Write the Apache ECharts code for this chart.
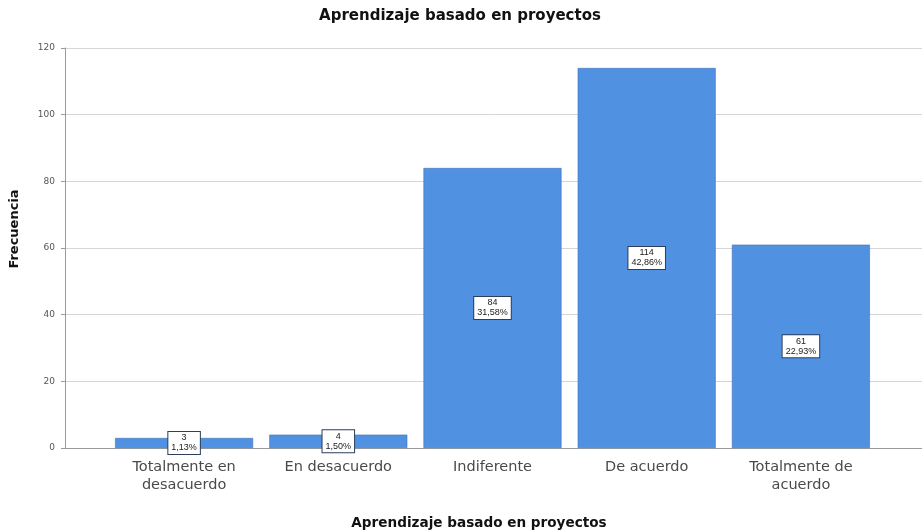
<!DOCTYPE html>
<html>
<head>
<meta charset="utf-8">
<script src="https://cdn.jsdelivr.net/npm/echarts@6/dist/echarts.min.js"></script>
<style>html,body{margin:0;padding:0;background:#fff}#c{width:922px;height:532px}</style>
</head>
<body>
<div id="c"></div>
<script>
var categories = ['Totalmente en\ndesacuerdo', 'En desacuerdo', 'Indiferente', 'De acuerdo', 'Totalmente de\nacuerdo'];
var frecuencias = [3, 4, 84, 114, 61];
var porcentajes = ['1,13%', '1,50%', '31,58%', '42,86%', '22,93%'];
var yTicks = [0, 20, 40, 60, 80, 100, 120];

var chart = echarts.init(document.getElementById('c'), null, {renderer: 'canvas'});
var font = 'DejaVu Sans, Liberation Sans, sans-serif';
chart.setOption({
  animation: false,
  backgroundColor: '#ffffff',
  title: [{
    text: 'Aprendizaje basado en proyectos',
    left: 455, top: 4, textAlign: 'center',
    textStyle: {fontFamily: font, fontSize: 15, fontWeight: 'bold', color: '#111'}
  }, {
    text: 'Aprendizaje basado en proyectos',
    left: 474, top: 511, textAlign: 'center',
    textStyle: {fontFamily: font, fontSize: 13.6, fontWeight: 'bold', color: '#111'}
  }],
  grid: [
    {left: 65, right: 0, top: 48, bottom: 84, outerBoundsMode: 'none', containLabel: false},
    {left: 107, right: 44, top: 48, bottom: 84, outerBoundsMode: 'none', containLabel: false}
  ],
  xAxis: [
    {
      gridIndex: 0, type: 'category', data: [''],
      axisLine: {show: true, lineStyle: {color: '#9a9a9a', width: 1}},
      axisTick: {show: false}, axisLabel: {show: false}
    },
    {
      gridIndex: 1, type: 'category', data: categories,
      axisLine: {show: false}, axisTick: {show: false},
      axisLabel: {fontFamily: font, fontSize: 14.5, color: '#4a4a4a', lineHeight: 18, margin: 10, interval: 0}
    }
  ],
  yAxis: [
    {
      gridIndex: 0, type: 'value', min: yTicks[0], max: yTicks[yTicks.length - 1], interval: 20,
      axisLine: {show: true, lineStyle: {color: '#9a9a9a', width: 1}},
      axisTick: {show: true, length: 4, lineStyle: {color: '#9a9a9a'}},
      axisLabel: {fontFamily: font, fontSize: 9, color: '#555', margin: 10},
      splitLine: {show: true, lineStyle: {color: '#d6d6d6', width: 1}},
      name: 'Frecuencia', nameLocation: 'middle', nameGap: 44, nameRotate: 90,
      nameTextStyle: {fontFamily: font, fontSize: 13, fontWeight: 'bold', color: '#111', padding: [0, 0, 0, 38]}
    },
    {
      gridIndex: 1, type: 'value', min: yTicks[0], max: yTicks[yTicks.length - 1], interval: 20,
      show: false, splitLine: {show: false}
    }
  ],
  series: [{
    type: 'bar',
    xAxisIndex: 1, yAxisIndex: 1,
    data: frecuencias,
    barWidth: '89.5%',
    itemStyle: {color: '#5191e2', borderColor: '#3f72b8', borderWidth: 0.6},
    label: {
      show: true, position: 'inside',
      formatter: function (p) { return p.value + '\n' + porcentajes[p.dataIndex]; },
      fontFamily: 'Liberation Sans, Arial, sans-serif', fontSize: 9, lineHeight: 10, color: '#222',
      backgroundColor: '#ffffff', borderColor: '#2c3e5a', borderWidth: 1,
      padding: [1, 3, 1, 3], align: 'center'
    }
  }]
});
</script>
</body>
</html>
